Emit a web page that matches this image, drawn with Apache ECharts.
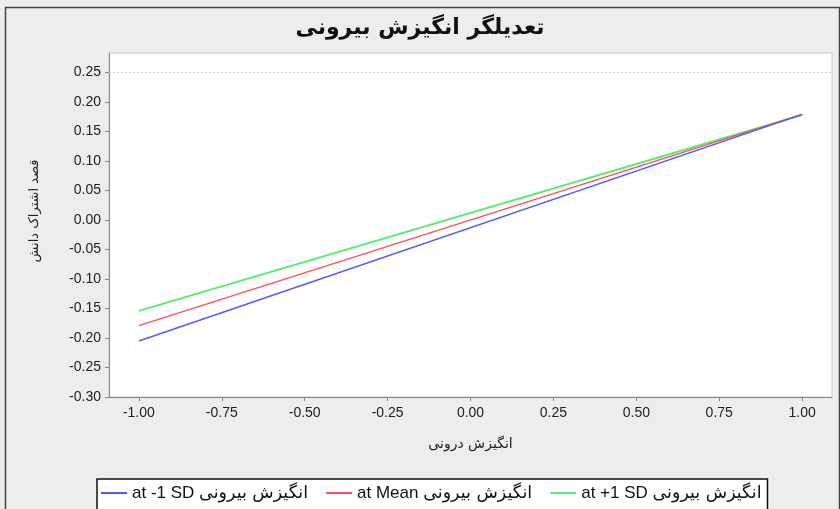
<!DOCTYPE html>
<html>
<head>
<meta charset="utf-8">
<script src="https://cdn.jsdelivr.net/npm/echarts@6/dist/echarts.min.js"></script>
<style>
html,body{margin:0;padding:0;background:#ededed;}
#c{width:840px;height:509px;}
</style>
</head>
<body>
<div id="c"></div>
<script>
const titleText = 'تعدیلگر انگیزش بیرونی';
const xName = 'انگیزش درونی';
const yName = 'قصد اشتراک دانش';
const xValues = [-1, 1];
const seriesLatin = ['at -1 SD', 'at Mean', 'at +1 SD'];
const seriesPersian = 'انگیزش بیرونی';
const seriesNames = seriesLatin.map(s => s + ' ' + seriesPersian);
const lowSD = [-0.205, 0.179];
const meanVals = [-0.179, 0.179];
const highSD = [-0.154, 0.178];
const xTicks = [-1.00, -0.75, -0.50, -0.25, 0.00, 0.25, 0.50, 0.75, 1.00];
const yTicks = [-0.30, -0.25, -0.20, -0.15, -0.10, -0.05, 0.00, 0.05, 0.10, 0.15, 0.20, 0.25];
const gridLineAt = [0.25];

const colors = ['#5555ff', '#ff4f5a', '#55ee70'];
const seriesData = [lowSD, meanVals, highSD];

const chart = echarts.init(document.getElementById('c'));
const series = [2, 1, 0].map(i => ({
  name: seriesNames[i],
  type: 'line',
  data: xValues.map((x, k) => [x, seriesData[i][k]]),
  showSymbol: false,
  symbol: 'none',
  lineStyle: { color: colors[i], width: i === 2 ? 2 : 1.5 },
  itemStyle: { color: colors[i] },
  animation: false,
  silent: true,
  z: 3 + (2 - i)
}));
series[0].markLine = {
  silent: true, symbol: 'none', label: { show: false },
  lineStyle: { color: '#cfcfcf', type: [2, 2], width: 1 },
  data: gridLineAt.map(v => ({ yAxis: v }))
};

chart.setOption({
  backgroundColor: '#ededed',
  animation: false,
  textStyle: { fontFamily: 'Liberation Sans, DejaVu Sans, sans-serif' },
  title: {
    text: titleText, left: 'center', top: 12,
    textStyle: { fontSize: 22, fontWeight: 'bold', color: '#111', fontFamily: 'DejaVu Sans, sans-serif' }
  },
  grid: {
    left: 109, right: 8, top: 53, bottom: 112,
    outerBoundsMode: 'none', containLabel: false,
    show: true, backgroundColor: '#ffffff', borderColor: '#c8c8c8', borderWidth: 1
  },
  xAxis: {
    type: 'value', min: -1.09, max: 1.09,
    name: xName, nameLocation: 'middle', nameGap: 40,
    nameTextStyle: { fontSize: 14, color: '#222', fontFamily: 'DejaVu Sans, sans-serif' },
    axisLine: { show: true, onZero: false, lineStyle: { color: '#888', width: 1 } },
    axisTick: { show: true, length: 4, customValues: xTicks, lineStyle: { color: '#888' } },
    axisLabel: { customValues: xTicks, formatter: v => v.toFixed(2), fontSize: 14, color: '#222', margin: 9 },
    splitLine: { show: false }
  },
  yAxis: {
    type: 'value', min: -0.30, max: 0.283,
    name: yName, nameLocation: 'middle', nameGap: 68, nameRotate: 90,
    nameTextStyle: { fontSize: 13, color: '#222', fontFamily: 'DejaVu Sans, sans-serif', padding: [0, 0, 0, 28] },
    axisLine: { show: true, onZero: false, lineStyle: { color: '#888', width: 1 } },
    axisTick: { show: true, length: 4, customValues: yTicks, lineStyle: { color: '#888' } },
    axisLabel: { customValues: yTicks, formatter: v => v.toFixed(2), fontSize: 14, color: '#222', margin: 8 },
    splitLine: { show: false }
  },
  legend: {
    data: seriesNames,
    left: 97, top: 479,
    orient: 'horizontal',
    backgroundColor: '#ffffff', borderColor: '#111', borderWidth: 1.5, borderRadius: 0,
    padding: [5, 6, 20, 4],
    itemGap: 18, itemWidth: 26, itemHeight: 2, icon: 'rect',
    formatter: name => {
      const i = seriesNames.indexOf(name);
      return '{a|' + seriesLatin[i] + '} {b|' + seriesPersian + '}';
    },
    textStyle: {
      fontSize: 17, color: '#111', fontFamily: 'Liberation Sans, DejaVu Sans, sans-serif',
      rich: {
        a: { fontSize: 17, color: '#111', fontFamily: 'Liberation Sans, sans-serif' },
        b: { fontSize: 17.5, color: '#111', fontFamily: 'DejaVu Sans, sans-serif' }
      }
    }
  },
  graphic: [{
    type: 'rect', left: 3, top: 5, z: -1,
    shape: { width: 834, height: 520 },
    style: { fill: 'none', stroke: '#444', lineWidth: 1.5 }
  }],
  series: series
});
</script>
</body>
</html>
